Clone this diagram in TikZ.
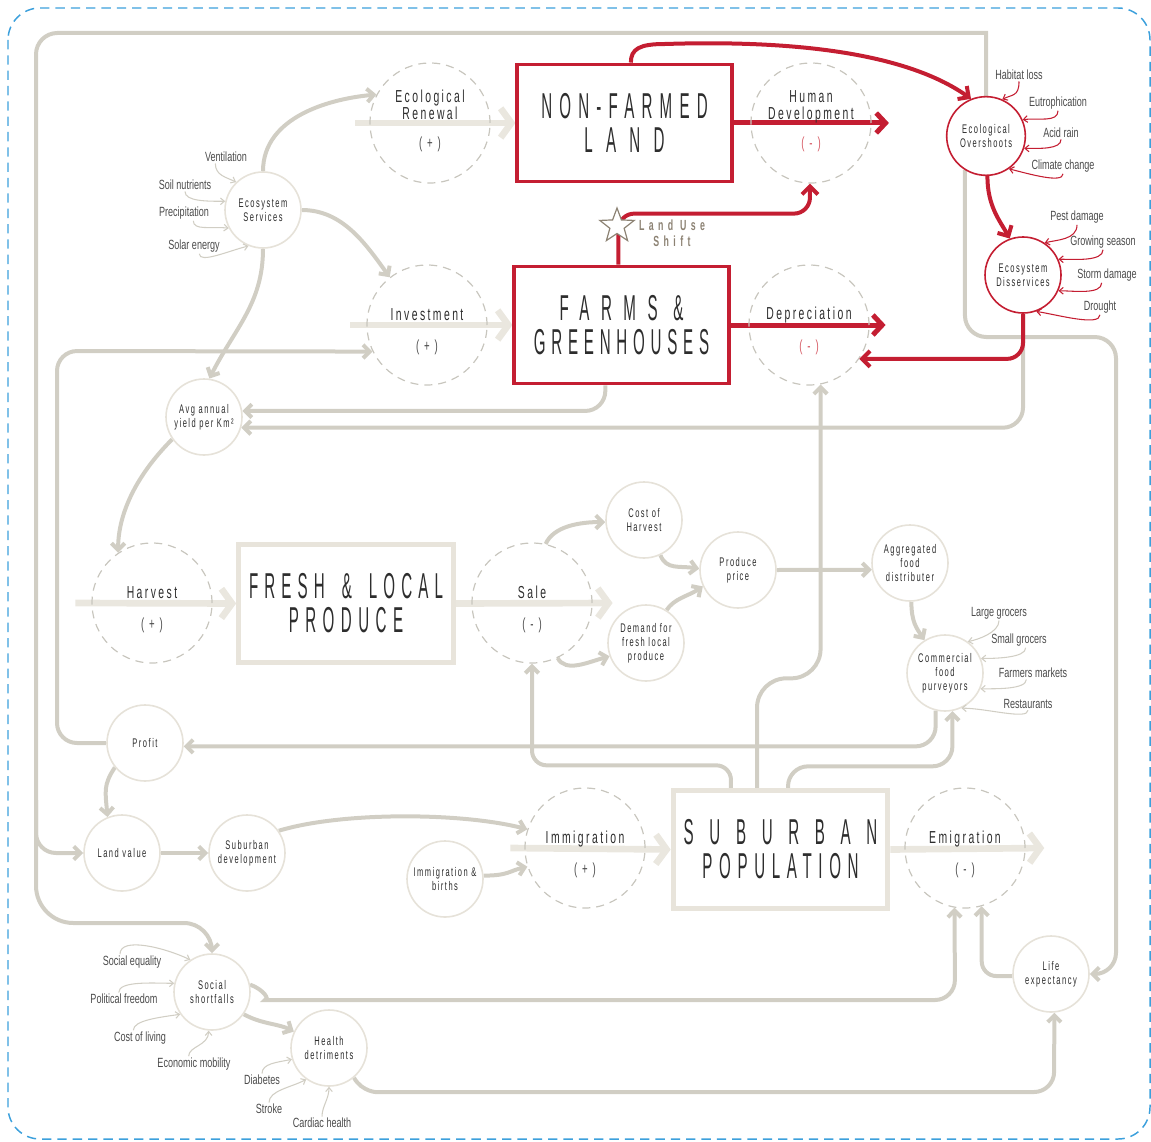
\documentclass[tikz,border=0pt]{standalone}
\usepackage{fontspec}
\setmainfont{Liberation Sans}
\newfontfamily\cuefont[FakeStretch=0.68]{Liberation Sans}
\newfontfamily\ringfont[FakeStretch=0.6,LetterSpace=12]{Liberation Sans}
\newfontfamily\flowfont[FakeStretch=0.6,LetterSpace=14]{Liberation Sans}
\newfontfamily\stockfont[FakeStretch=0.42]{Liberation Sans}
\newfontfamily\shiftfont[FakeStretch=0.6,LetterSpace=30]{Liberation Sans}
\usetikzlibrary{arrows.meta,shapes.geometric,backgrounds}

\definecolor{linkgray}{RGB}{209,206,196}
\definecolor{flowgray}{RGB}{234,231,223}
\definecolor{boxgray}{RGB}{232,228,219}
\definecolor{ringgray}{RGB}{230,226,217}
\definecolor{dashgray}{RGB}{200,198,190}
\definecolor{loopred}{RGB}{196,30,50}
\definecolor{signred}{RGB}{214,90,100}
\definecolor{inkgray}{RGB}{45,45,45}
\definecolor{cuegray}{RGB}{75,75,75}
\definecolor{frameblue}{RGB}{60,160,220}
\definecolor{shiftbrown}{RGB}{140,130,115}

\newcommand\stockline[2]{{\addfontfeatures{LetterSpace=#1}#2}}

\begin{document}
\begin{tikzpicture}[x=0.75pt,y=-0.75pt,
    stockbox/.style={draw=boxgray,line width=3.75pt,minimum width=161pt,minimum height=88pt,
      inner sep=0pt,text=inkgray,align=center,font=\stockfont\fontsize{27}{25.5}\selectfont},
    redstockbox/.style={stockbox,draw=loopred,line width=2.6pt},
    flowring/.style={circle,draw=dashgray,dash pattern=on 6pt off 4.5pt,line width=0.9pt,
      minimum size=90pt,inner sep=0pt},
    auxring/.style={circle,draw=ringgray,line width=1.2pt,fill=white,minimum size=57pt,
      inner sep=0pt,text=inkgray,align=center,font=\ringfont\fontsize{9.4}{10.5}\selectfont},
    redring/.style={auxring,draw=loopred,minimum size=59pt},
    flowname/.style={anchor=base,inner sep=0pt,text=inkgray,align=center,
      font=\flowfont\fontsize{13}{12.75}\selectfont},
    flowsign/.style={anchor=base,inner sep=0pt,text=cuegray,font=\flowfont\fontsize{12}{12}\selectfont},
    cue/.style={inner sep=1pt,text=cuegray,font=\cuefont\fontsize{10}{11}\selectfont},
    shifttext/.style={inner sep=0pt,text=shiftbrown,align=center,
      font=\shiftfont\bfseries\fontsize{11}{12}\selectfont},
    linkline/.style={draw=linkgray,line width=3pt,-{Straight Barb[length=5pt,width=10pt]}},
    redlink/.style={draw=loopred,line width=3pt,-{Straight Barb[length=6pt,width=12pt]}},
    flowarrow/.style={draw=flowgray,line width=5pt,-{Straight Barb[length=8pt,width=22pt]}},
    redflow/.style={draw=loopred,line width=3.75pt,-{Straight Barb[length=7pt,width=15pt]}},
    cuearrow/.style={draw=linkgray,line width=0.8pt,-{Straight Barb[length=3pt,width=5pt]}},
    redcue/.style={cuearrow,draw=loopred}]
  \useasboundingbox (0,0) rectangle (1151,1141);
  \draw[frameblue,line width=1.1pt,dash pattern=on 7pt off 4.5pt,rounded corners=24pt]
    (8,8) rectangle (1150,1139);

  % stocks
  \node[redstockbox] (nonfarmed) at (624.5,123) {\stockline{20}{NON-FARMED}\\\stockline{37}{LAND}};
  \node[redstockbox] (farms) at (621.5,325) {\stockline{32}{FARMS \&}\\\stockline{16}{GREENHOUSES}};
  \node[stockbox] (fresh) at (346,603.5) {\stockline{17}{FRESH \hspace{5pt}\& \hspace{5pt}LOCAL}\\\stockline{18}{PRODUCE}};
  \node[stockbox] (population) at (780.5,849.5) {\stockline{43.5}{SUBURBAN}\\\stockline{18.5}{POPULATION}};

  % flows
  \node[flowring] (renewal) at (430,123) {};
  \node[flowring] (humandev) at (811,123) {};
  \node[flowring] (invest) at (427,325) {};
  \node[flowring] (deprec) at (809,325) {};
  \node[flowring] (harvest) at (152,603) {};
  \node[flowring] (sale) at (532,603) {};
  \node[flowring] (immig) at (585,848) {};
  \node[flowring] (emig) at (965,848) {};

  % auxiliaries
  \node[auxring] (ecoserv) at (263,210) {Ecosystem\\Services};
  \node[auxring] (yield) at (204,417) {Avg annual\\yield per Km²};
  \node[auxring] (costharvest) at (644,520) {Cost of\\Harvest};
  \node[auxring] (price) at (738,570) {Produce\\price};
  \node[auxring] (demand) at (646,643) {Demand for\\fresh local\\produce};
  \node[auxring] (distributer) at (910,563) {Aggregated\\food\\distributer};
  \node[auxring] (purveyors) at (945,673) {Commercial\\food\\purveyors};
  \node[auxring] (profit) at (145,743) {Profit};
  \node[auxring] (landvalue) at (122,853) {Land value};
  \node[auxring] (suburbdev) at (247,853) {Suburban\\development};
  \node[auxring] (births) at (445,879) {Immigration \&\\births};
  \node[auxring] (social) at (212,992) {Social\\shortfalls};
  \node[auxring] (health) at (329,1048) {Health\\detriments};
  \node[auxring] (life) at (1051,974) {Life\\expectancy};
  \node[redring] (overshoot) at (986,136) {Ecological\\Overshoots};
  \node[redring,minimum size=57pt] (disserv) at (1023,275) {Ecosystem\\Disservices};

  % small causes
  \node[cue] (ventilation) at (226,157) {Ventilation};
  \node[cue] (soil) at (185,185) {Soil nutrients};
  \node[cue] (precip) at (184,213) {Precipitation};
  \node[cue] (solar) at (194,246) {Solar energy};
  \node[cue] (habitat) at (1019,75) {Habitat loss};
  \node[cue] (eutro) at (1058,103) {Eutrophication};
  \node[cue] (acid) at (1061,133) {Acid rain};
  \node[cue] (climate) at (1063,166) {Climate change};
  \node[cue] (pest) at (1077,217) {Pest damage};
  \node[cue] (growing) at (1103,242) {Growing season};
  \node[cue] (storm) at (1107,275) {Storm damage};
  \node[cue] (drought) at (1100,307) {Drought};
  \node[cue] (large) at (999,613) {Large grocers};
  \node[cue] (small) at (1019,640) {Small grocers};
  \node[cue] (farmers) at (1033,673) {Farmers markets};
  \node[cue] (restaurants) at (1028,704) {Restaurants};
  \node[cue] (equality) at (132,962) {Social equality};
  \node[cue] (freedom) at (124,999) {Political freedom};
  \node[cue] (living) at (140,1038) {Cost of living};
  \node[cue] (mobility) at (194,1064) {Economic mobility};
  \node[cue] (diabetes) at (262,1080) {Diabetes};
  \node[cue] (stroke) at (269,1109) {Stroke};
  \node[cue] (cardiac) at (322,1123) {Cardiac health};
  \coordinate (trunkbend) at (36,800);

  \begin{pgfonlayer}{background}
    \draw[linkline] (overshoot.north) -- (986,33) [rounded corners=16pt] -- (36,33)
      [rounded corners=28pt] -- (36,923) [rounded corners=21pt] -- (212,923)
      [rounded corners=11pt] -- (social.north);
    \draw[linkline,rounded corners=15pt] (trunkbend) |- (landvalue.west);
    \draw[linkline,rounded corners=16pt] (overshoot.238) -- (965,337) -- (1116,337)
      -- (1116,974) -- (life.east);
    \draw[linkline] (ecoserv.north) .. controls +(0,-55) and +(-45,4) .. (renewal.152);
    \draw[linkline] (ecoserv.east) .. controls +(40,0) and +(-25,-35) .. (invest.128);
    \draw[linkline] (ecoserv.south) .. controls +(0,55) and +(25,-50) .. (yield.82);
    \draw[linkline] (yield.215) .. controls +(-35,35) and +(0,-40) .. (harvest.124);
    \draw[linkline] (profit.219) .. controls +(-12,18) and +(-2,-25) .. (landvalue.112);
    \draw[linkline] (landvalue.east) -- (suburbdev.west);
    \draw[linkline] (suburbdev.35) .. controls (340,812) and (460,812) .. (immig.162);
    \draw[linkline] (births.5) .. controls +(25,0) and +(-18,4) .. (immig.198);
    \draw[linkline,rounded corners=15pt] (social.11) to[out=-20,in=180] (285,1000)
      -- (955,1000) -- (emig.-100);
    \draw[linkline] (social.-35) .. controls +(18,10) and +(-15,-8) .. (health.155);
    \draw[linkline,rounded corners=15pt] (health.-50) to[out=-60,in=180] (395,1092)
      -- (1054,1092) -- (life.-85);
    \draw[linkline,rounded corners=11pt] (life.183) -| (emig.-74);
    \draw[linkline,rounded corners=15pt] (profit.west) -- (57,743) -- (57,351) -- (invest.206);
    \draw[linkline,rounded corners=15pt] (farms.255) |- (yield.9);
    \draw[linkline,rounded corners=15pt] (disserv.south) |- (yield.-16);
    \draw[linkline,rounded corners=11pt] (population.129) -- ++(0,-23) -| (sale.south);
    \draw[linkline,rounded corners=22pt] (population.111) -- ++(0,-110) -| (deprec.-79);
    \draw[linkline,rounded corners=15pt] (population.83) -- ++(0,-22) -| (purveyors.-79);
    \draw[linkline,rounded corners=15pt] (purveyors.-104) |- (profit.-5);
    \draw[linkline] (sale.77) .. controls +(8,-18) and +(-25,0) .. (costharvest.183);
    \draw[linkline] (costharvest.-65) .. controls +(6,15) and +(-20,-3) .. (price.178);
    \draw[linkline] (demand.58) .. controls +(8,-12) and +(-15,10) .. (price.205);
    \draw[linkline] (sale.-65) .. controls +(8,15) and +(-22,6) .. (demand.200);
    \draw[linkline] (price.east) -- (distributer.190);
    \draw[linkline] (distributer.-88) .. controls +(0,20) and +(-8,-12) .. (purveyors.122);

    \draw[flowarrow] ([xshift=-10.5pt]renewal.west) -- (nonfarmed.west);
    \draw[redflow] (nonfarmed.east) -- ([xshift=13pt]humandev.east);
    \draw[flowarrow] ([xshift=-12pt]invest.west) -- (farms.west);
    \draw[redflow] (farms.east) -- ([xshift=12pt]deprec.east);
    \draw[flowarrow] ([xshift=-12pt]harvest.west) -- (fresh.west);
    \draw[flowarrow] (fresh.east) -- ([xshift=15pt]sale.east);
    \draw[flowarrow] ([xshift=-10.5pt]immig.west) -- (population.west);
    \draw[flowarrow] (population.east) -- ([xshift=14pt]emig.east);
  \end{pgfonlayer}

  \node[flowname,anchor=center] (renewalname) at (430,105) {Ecological\\Renewal};
  \node[flowsign] (renewalsign) at (430,149) {( + )};
  \node[flowname,anchor=center] (humandevname) at (811,107) {Human\\Development};
  \node[flowsign,text=signred] (humandevsign) at (811,149) {( - )};
  \node[flowname] (investname) at (427,320) {Investment};
  \node[flowsign] (investsign) at (427,351) {( + )};
  \node[flowname] (deprecname) at (809,319) {Depreciation};
  \node[flowsign,text=signred] (deprecsign) at (809,351) {( - )};
  \node[flowname] (harvestname) at (152,598) {Harvest};
  \node[flowsign] (harvestsign) at (152,629) {( + )};
  \node[flowname] (salename) at (532,598) {Sale};
  \node[flowsign] (salesign) at (532,629) {( - )};
  \node[flowname] (immigname) at (585,843) {Immigration};
  \node[flowsign] (immigsign) at (585,874) {( + )};
  \node[flowname] (emigname) at (965,843) {Emigration};
  \node[flowsign] (emigsign) at (965,874) {( - )};

  \draw[redlink] (nonfarmed.84) .. controls +(0,-14) and +(-25,0) .. (665,44)
    .. controls (790,40) and (905,52) .. (overshoot.112);
  \draw[redlink] (overshoot.-88) .. controls +(0,30) and +(-10,-18) .. (disserv.110);
  \draw[redlink,rounded corners=12pt] (disserv.south) |- (deprec.-34);
  \draw[redlink,rounded corners=12pt] (farms.93) -- ++(0,-51) -| (humandev.-91);
  \node[star,star points=5,star point ratio=2.4,draw=shiftbrown,fill=white,line width=0.9pt,
    minimum size=27pt,inner sep=0pt] (shiftstar) at (617,226) {};
  \node[shifttext] (shiftlabel) at (672,233) {Land Use\\Shift};

  \draw[cuearrow] ([xshift=-8pt]ventilation.south) .. controls +(0,12) and +(-10,-5) .. (ecoserv.134);
  \draw[cuearrow] (soil.south) .. controls +(0,10) and +(-18,0) .. (ecoserv.167);
  \draw[cuearrow] ([xshift=7pt]precip.south) .. controls +(0,10) and +(-18,-2) .. (ecoserv.208);
  \draw[cuearrow] ([xshift=4pt]solar.south) .. controls +(0,10) and +(-20,5) .. (ecoserv.248);
  \draw[redcue] (habitat.south) .. controls +(0,15) and +(10,-5) .. (overshoot.66);
  \draw[redcue] (eutro.south) .. controls +(0,12) and +(15,-2) .. (overshoot.24);
  \draw[redcue] (acid.south) .. controls +(0,10) and +(15,0) .. (overshoot.-18);
  \draw[redcue] (climate.south) .. controls +(0,10) and +(20,5) .. (overshoot.-55);
  \draw[redcue] (pest.south) .. controls +(0,15) and +(12,-3) .. (disserv.56);
  \draw[redcue] (growing.south) .. controls +(0,12) and +(15,0) .. (disserv.24);
  \draw[redcue] ([xshift=-4pt]storm.south) .. controls +(0,12) and +(15,0) .. (disserv.-24);
  \draw[redcue] (drought.south) .. controls +(0,12) and +(20,3) .. (disserv.-70);
  \draw[cuearrow] (large.south) .. controls +(0,12) and +(10,-2) .. (purveyors.54);
  \draw[cuearrow] ([xshift=5pt]small.south) .. controls +(0,10) and +(15,0) .. (purveyors.22);
  \draw[cuearrow] ([xshift=-5pt]farmers.south) .. controls +(0,10) and +(15,0) .. (purveyors.-24);
  \draw[cuearrow] (restaurants.south) .. controls +(0,10) and +(25,0) .. (purveyors.-65);
  \draw[cuearrow] ([xshift=-9pt]equality.north) .. controls +(0,-18) and +(-25,-12) .. (social.124);
  \draw[cuearrow] ([xshift=-4pt]freedom.north) .. controls +(0,-12) and +(-20,0) .. (social.167);
  \draw[cuearrow] ([xshift=-5pt]living.north) .. controls +(0,-10) and +(-20,3) .. (social.215);
  \draw[cuearrow] ([xshift=-4pt]mobility.north) .. controls +(0,-10) and +(0,15) .. (social.-95);
  \draw[cuearrow] (diabetes.north) .. controls +(0,-10) and +(-15,3) .. (health.197);
  \draw[cuearrow] (stroke.north) .. controls +(0,-12) and +(-15,8) .. (health.234);
  \draw[cuearrow] (cardiac.north) .. controls +(0,-10) and +(0,12) .. (health.-90);
\end{tikzpicture}
\end{document}
